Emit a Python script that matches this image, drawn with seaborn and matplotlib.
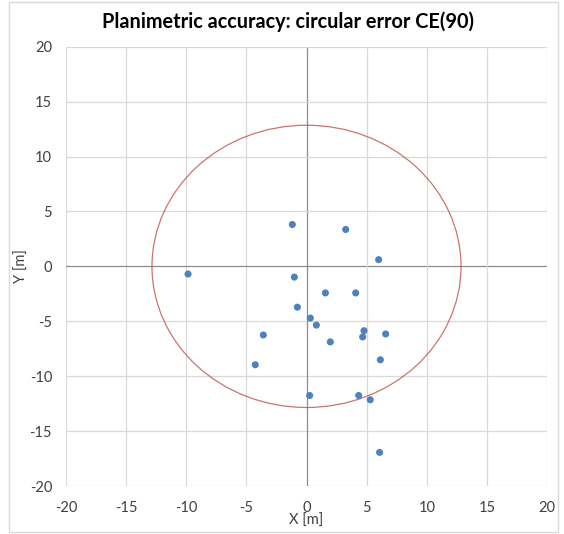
import numpy as np
import pandas as pd
import matplotlib
matplotlib.use("Agg")
import matplotlib.pyplot as plt
from matplotlib.patches import Circle, Rectangle
import seaborn as sns

x_err = [-1.18, 3.26, 6.00, -9.85, -1.01, 1.57, 4.09, -0.76, 0.32, 0.82, 4.78,
         4.67, 6.58, -3.59, 1.98, 6.14, -4.26, 0.26, 4.34, 5.30, 6.08]
y_err = [3.81, 3.36, 0.61, -0.70, -0.98, -2.42, -2.42, -3.72, -4.71, -5.35, -5.86,
         -6.43, -6.16, -6.25, -6.88, -8.51, -8.96, -11.76, -11.76, -12.15, -16.94]
ce90_radius = 12.85
ticks = [-20, -15, -10, -5, 0, 5, 10, 15, 20]

sns.set_theme(style="white")
plt.rcParams['font.family'] = ['Lato', 'DejaVu Sans']

df = pd.DataFrame({"X": x_err, "Y": y_err})

fig = plt.figure(figsize=(5.64, 5.34), dpi=100)
ax = fig.add_axes([66/564, 1-486/534, (547-66)/564, (486-46.7)/534])

# outer chart border
fig.patches.append(Rectangle((9/564, 2/534), (558-9)/564, (532-2)/534,
                             transform=fig.transFigure, fill=False,
                             edgecolor="#D9D9D9", linewidth=1.0))

for t in ticks:
    c = "#8C8C8C" if t == 0 else "#D9D9D9"
    ax.axvline(t, color=c, lw=0.9, zorder=0)
    ax.axhline(t, color=c, lw=0.9, zorder=0)

ax.add_patch(Circle((0, 0), ce90_radius, fill=False, edgecolor="#C0504D",
                    linewidth=0.9, alpha=0.8, zorder=2))

sns.scatterplot(data=df, x="X", y="Y", ax=ax, color="#4F81BD", s=26,
                edgecolor="none", zorder=3)

ax.set_xlim(-20, 20)
ax.set_ylim(-20, 20)
ax.set_xticks(ticks)
ax.set_yticks(ticks)
ax.set_xticklabels([str(t) for t in ticks], fontsize=10.5, color="#404040")
ax.set_yticklabels([str(t) for t in ticks], fontsize=10.5, color="#404040")
ax.tick_params(axis="x", length=0, pad=11)
ax.tick_params(axis="y", length=0, pad=10)
for s in ax.spines.values():
    s.set_visible(False)

ax.set_xlabel("X [m]", fontsize=10.5, color="#404040", labelpad=-1)
ax.set_ylabel("Y [m]", fontsize=10.5, color="#404040")
ax.yaxis.set_label_coords((29-66)/481, 0.5)

fig.text(287.5/564, 1-22/534, "Planimetric accuracy: circular error CE(90)",
         fontsize=14.3, fontweight="bold", color="#000000",
         ha="center", va="center")

fig.savefig("out.png", dpi=100)
